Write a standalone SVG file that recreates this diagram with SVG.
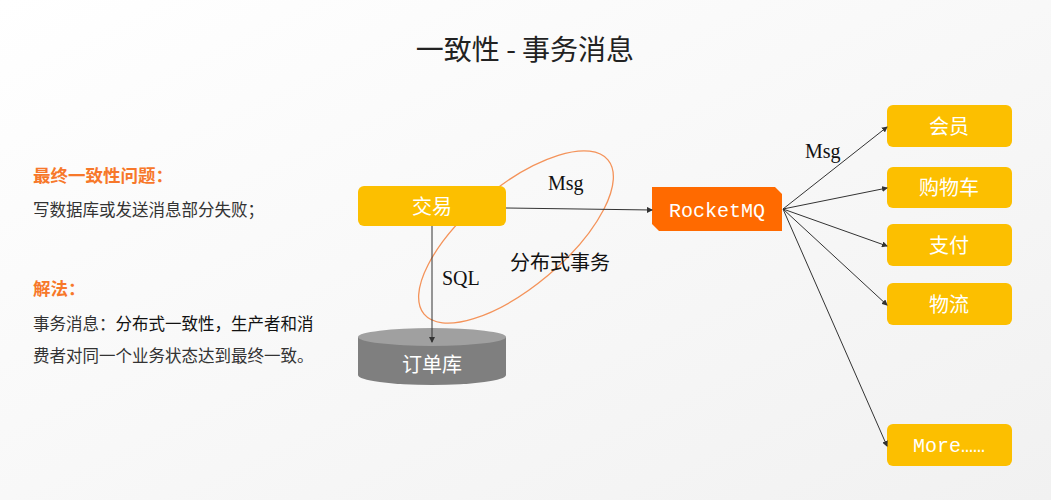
<svg xmlns="http://www.w3.org/2000/svg" width="1051" height="500" viewBox="0 0 1051 500">
<defs>
<marker id="ah" markerWidth="6" markerHeight="6" refX="5" refY="3" orient="auto" markerUnits="userSpaceOnUse"><path d="M0,0 L6,3 L0,6 z" fill="#333"/></marker>
<linearGradient id="bg" x1="0" y1="0" x2="1" y2="1"><stop offset="0" stop-color="#ffffff"/><stop offset="1" stop-color="#f1f1f1"/></linearGradient>
</defs>
<style>
.y{fill:#fcbf00}
.wt{font-family:"Noto Sans CJK SC","Noto Sans",sans-serif;font-size:20px;fill:#fff;text-anchor:middle}
.mono{font-family:"Liberation Mono","Noto Sans CJK SC",monospace}
.lbl{font-family:"Liberation Serif","Noto Sans CJK SC",serif;font-size:20px;fill:#111}
.ln{stroke:#333;stroke-width:1;fill:none;marker-end:url(#ah)}
.side{font-family:"Noto Sans CJK SC",sans-serif;font-size:16.5px;fill:#333}
.head{font-family:"Noto Sans CJK SC",sans-serif;font-size:17.5px;font-weight:bold;fill:#f7782a}
</style>
<rect width="1051" height="500" fill="url(#bg)"/>
<text x="525" y="60" text-anchor="middle" font-family="Noto Sans CJK SC, sans-serif" font-size="28" fill="#222">一致性 - 事务消息</text>
<g id="left-text">
<text x="33" y="182" class="head">最终一致性问题：</text>
<text x="33" y="216" class="side">写数据库或发送消息部分失败；</text>
<text x="33" y="295" class="head">解法：</text>
<text x="33" y="330" class="side">事务消息：<tspan fill="#111">分布式一致性，生产者和消</tspan></text>
<text x="33" y="362" class="side" fill="#111">费者对同一个业务状态达到最终一致。</text>
</g>
<g id="tx-ellipse">
<ellipse cx="516" cy="237" rx="120" ry="50" transform="rotate(-40 516 237)" fill="none" stroke="#f4935a" stroke-width="1.3"/>
<text x="510" y="270" font-family="Noto Sans CJK SC, sans-serif" font-size="20" fill="#111">分布式事务</text>
</g>
<g id="jiaoyi">
<rect x="358" y="186" width="148" height="40" rx="6" class="y"/>
<text x="432" y="214" class="wt">交易</text>
</g>
<g id="rocketmq">
<path d="M652,187 H775 L782,194 V231 H659 L652,224 Z" fill="#ff6a00"/>
<text x="717" y="217" class="wt mono" font-size="18">RocketMQ</text>
</g>
<g id="db">
<path d="M358,337 V375 A74,10 0 0 0 506,375 V337 Z" fill="#7f7f7f"/>
<ellipse cx="432" cy="337" rx="74" ry="9" fill="#a0a0a0"/>
<text x="432" y="372" class="wt">订单库</text>
</g>
<g id="huiyuan"><rect x="887" y="105" width="125" height="42" rx="6" class="y"/><text x="949" y="134" class="wt">会员</text></g>
<g id="gouwuche"><rect x="887" y="167" width="125" height="41" rx="6" class="y"/><text x="949" y="195" class="wt">购物车</text></g>
<g id="zhifu"><rect x="887" y="224" width="125" height="42" rx="6" class="y"/><text x="949" y="253" class="wt">支付</text></g>
<g id="wuliu"><rect x="887" y="283" width="125" height="42" rx="6" class="y"/><text x="949" y="312" class="wt">物流</text></g>
<g id="more"><rect x="887" y="424" width="125" height="42" rx="6" class="y"/><text x="949" y="452" class="wt mono" font-size="18">More……</text></g>
<g id="connectors">
<line x1="506" y1="208" x2="652" y2="210" class="ln"/>
<line x1="432" y1="226" x2="432" y2="342" class="ln"/>
<line x1="783" y1="209" x2="887" y2="127" class="ln"/>
<line x1="783" y1="209" x2="887" y2="188" class="ln"/>
<line x1="783" y1="209" x2="887" y2="246" class="ln"/>
<line x1="783" y1="209" x2="887" y2="305" class="ln"/>
<line x1="783" y1="209" x2="887" y2="446" class="ln"/>
<text x="548" y="190" class="lbl">Msg</text>
<text x="442" y="285" class="lbl">SQL</text>
<text x="805" y="158" class="lbl">Msg</text>
</g>
</svg>
